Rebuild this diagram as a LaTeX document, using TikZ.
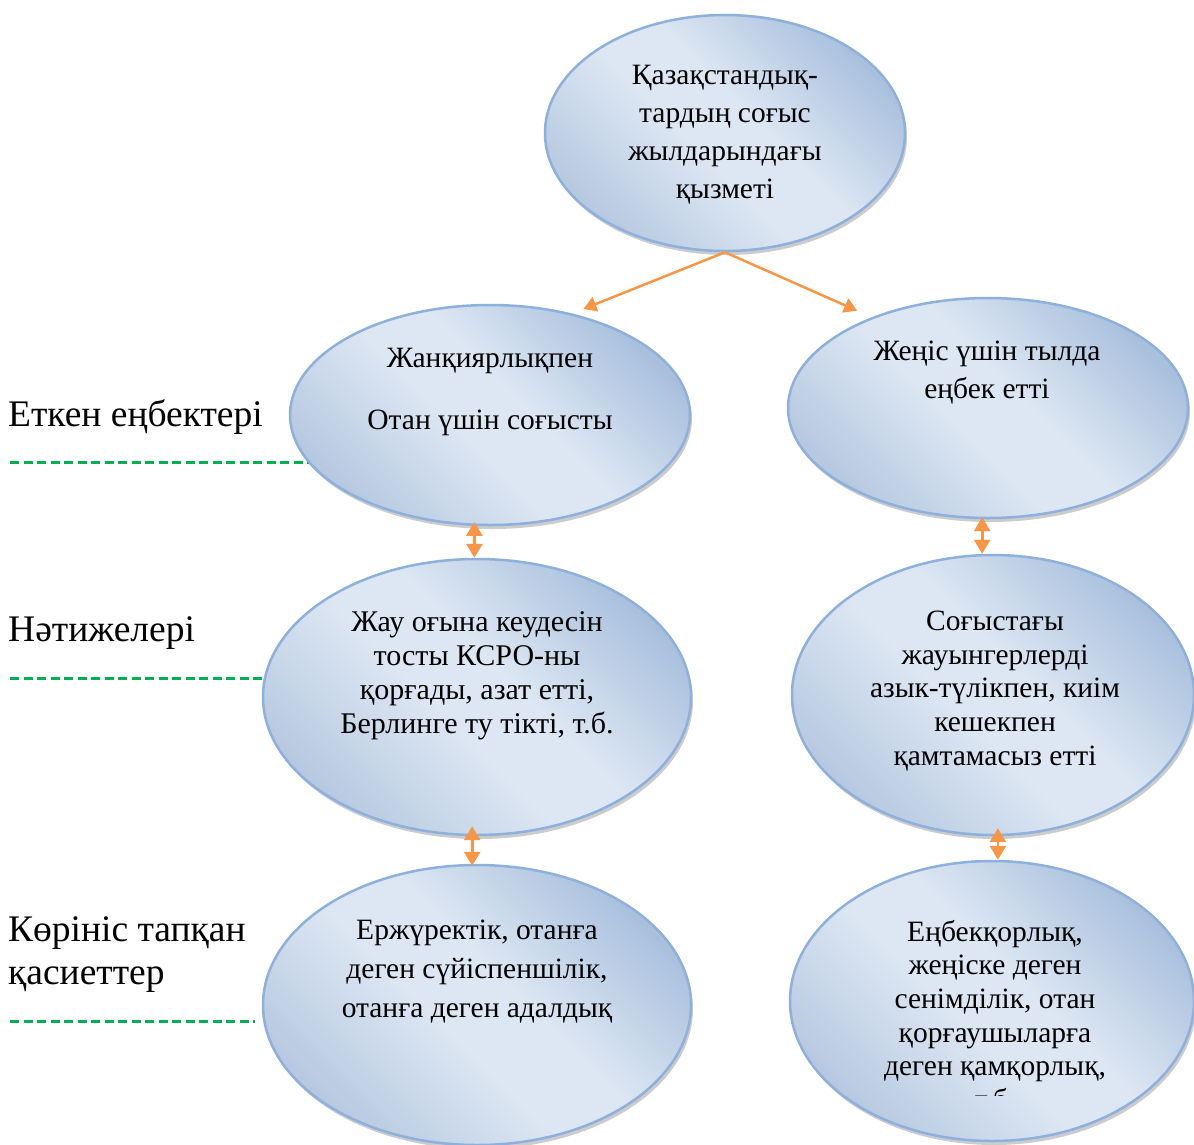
\documentclass[tikz,border=0pt]{standalone}
\usepackage{fontspec}
\setmainfont{Liberation Serif}
\usetikzlibrary{shapes.geometric,shadows,arrows.meta,calc,backgrounds}
\definecolor{ellA}{HTML}{A9C0DD}
\definecolor{ellB}{HTML}{DDE7F3}
\definecolor{ellC}{HTML}{B7C9E1}
\definecolor{ellBorder}{HTML}{8DB0DC}
\definecolor{arrowOr}{HTML}{F79646}
\definecolor{dashGr}{HTML}{00B050}
\pgfdeclarehorizontalshading{ellshade}{100bp}{color(0bp)=(ellC); color(25bp)=(ellC); color(45bp)=(ellB); color(55bp)=(ellB); color(75bp)=(ellA); color(100bp)=(ellA)}
\tikzset{
  ell/.style={ellipse, draw=ellBorder, line width=2.5pt, shading=ellshade, shading angle=45,
    drop shadow={shadow xshift=2pt, shadow yshift=-4pt, fill=black!40}, inner sep=0pt},
  txt/.style={align=center, inner sep=0pt, font=\fontsize{29.5}{38}\selectfont},
  lbl/.style={anchor=west, align=left, inner sep=0pt, font=\fontsize{37.5}{43}\selectfont},
  arr/.style={draw=arrowOr, line width=2.5pt, -{Triangle[width=15pt,length=13pt]}},
  dbl/.style={draw=arrowOr, line width=2.8pt, {Triangle[width=16pt,length=14pt]}-{Triangle[width=16pt,length=14pt]}},
  gd/.style={draw=dashGr, line width=3pt, dash pattern=on 9pt off 4.5pt}
}
\begin{document}
\begin{tikzpicture}[x=1pt,y=-1pt]
\useasboundingbox (0,0) rectangle (1194,1144);
% ellipses
\node[ell, minimum width=360pt, minimum height=236pt] (e0) at (725,133) {};
\node[ell, minimum width=400pt, minimum height=220pt] (e1) at (490,415) {};
\node[ell, minimum width=400pt, minimum height=220pt] (e2) at (988,408) {};
\node[ell, minimum width=428pt, minimum height=276pt] (e3) at (477,697) {};
\node[ell, minimum width=402pt, minimum height=280pt] (e4) at (993,695) {};
\node[ell, minimum width=428pt, minimum height=280pt] (e5) at (477,1005) {};
\node[ell, minimum width=404pt, minimum height=280pt] (e6) at (992,1001) {};
% texts
\node[txt] (t0) at (725,135) {Қазақстандық-\\тардың соғыс\\жылдарындағы\\қызметі};
\node[txt] (t1) at (490,392) {Жанқиярлықпен\\[24pt]Отан үшін соғысты};
\node[txt] (t2) at (987,373) {Жеңіс үшін тылда\\еңбек етті};
\node[txt, font=\fontsize{30}{34}\selectfont] (t3) at (477,676) {Жау оғына кеудесін\\тосты КСРО-ны\\қорғады, азат етті,\\Берлинге ту тікті, т.б.};
\node[txt, font=\fontsize{29.5}{33.8}\selectfont] (t4) at (995,691) {Соғыстағы\\жауынгерлерді\\азык-түлікпен, киім\\кешекпен\\қамтамасыз етті};
\node[txt, font=\fontsize{29.5}{39}\selectfont] (t5) at (477,972) {Ержүректік, отанға\\деген сүйіспеншілік,\\отанға деген адалдық};
\begin{scope}
\clip (780,850) rectangle (1194,1095);
\node[txt, font=\fontsize{29.5}{33.6}\selectfont] (t6) at (995,1015) {Еңбекқорлық,\\жеңіске деген\\сенімділік, отан\\қорғаушыларға\\деген қамқорлық,\\т.б.};
\end{scope}
% labels
\node[lbl] (l1) at (8,417) {Еткен еңбектері};
\node[lbl] (l2) at (8,633) {Нәтижелері};
\node[lbl] (l3) at (8,955) {Көрініс тапқан\\қасиеттер};
% dashed guide lines
\begin{scope}[on background layer]
\coordinate (g1) at (10,462);
\draw[gd] (g1) -- (g1 -| e1.center);
\coordinate (g2) at (10,678);
\draw[gd] (g2) -- (g2 -| e3.center);
\coordinate (g3s) at (10,1021);
\coordinate (g3e) at (255,1021);
\draw[gd] (g3s) -- (g3e);
\end{scope}
% arrows
\draw[arr, shorten >=12pt] (e0.south) -- (e1.51);
\draw[arr, shorten >=16pt] (e0.south) -- (e2.142);
\draw[dbl, shorten <=-4pt] (e1.-98) -- (e1.-98 |- e3.north);
\draw[dbl, shorten <=-2pt] (e2.-93) -- (e2.-93 |- e4.north);
\draw[dbl, shorten <=-10pt, shorten >=-2pt] (e3.-92) -- (e3.-92 |- e5.north);
\draw[dbl, shorten <=-8pt] (e4.-88) -- (e4.-88 |- e6.north);
\end{tikzpicture}
\end{document}
